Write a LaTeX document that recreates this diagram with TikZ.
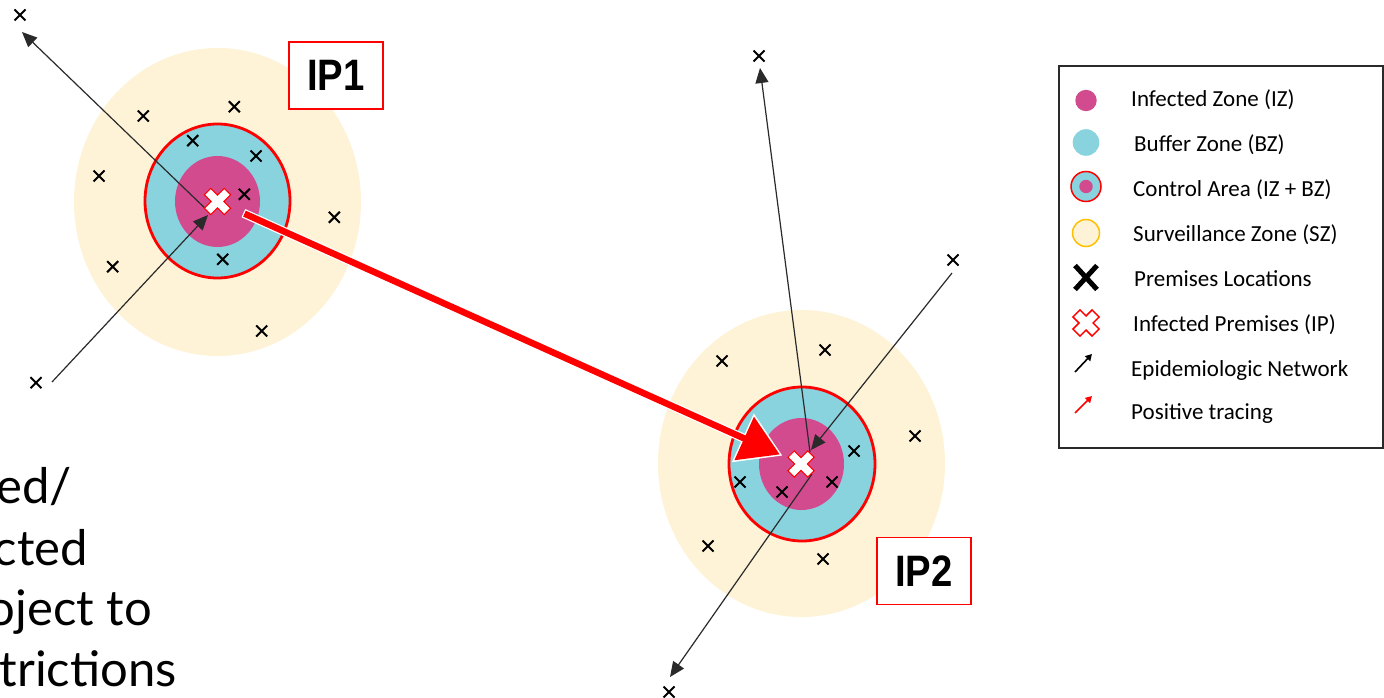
\documentclass[tikz,border=0pt]{standalone}
\usepackage{fontspec}
\usepackage{graphicx}
\usetikzlibrary{arrows.meta,shapes.misc}
\newfontfamily\legendfont{Carlito}
\newfontfamily\labelfont{Liberation Sans}
\newfontfamily\notefont{Lato}

\definecolor{szfill}{HTML}{FEF3D7}
\definecolor{bzfill}{HTML}{88D3DE}
\definecolor{izfill}{HTML}{D24B8F}
\definecolor{netgray}{HTML}{2A2A2A}
\definecolor{szedge}{HTML}{FFC000}

\tikzset{
  premise/.style={cross out, draw=black, line width=2pt, minimum size=9pt, inner sep=0pt},
  net/.style={draw=netgray, line width=1.2pt, -{Triangle[length=15pt,width=13pt]}},
  tracing/.style={draw=red, line width=6.5pt, line cap=butt,
    -{Triangle[length=39pt,width=46pt]},
    preaction={draw=white, line width=9pt, line cap=butt,
      -{Triangle[length=43.5pt,width=51pt]},
      shorten <=28.4pt, shorten >=20.3pt}},
  iplabel/.style={draw=red, line width=1.2pt, fill=white, inner sep=0pt,
    minimum width=94pt, minimum height=67pt,
    font=\labelfont\bfseries\fontsize{44}{48}\selectfont},
  legtext/.style={anchor=base west, inner sep=0pt, text=black,
    font=\legendfont\fontsize{23}{27}\selectfont},
  notetext/.style={anchor=base east, inner sep=0pt, text=black,
    font=\notefont\fontsize{49}{58}\selectfont},
  ipx/.pic={
    \filldraw[fill=white, draw=red, line width=1pt, rotate=45]
      (-4.5,-14) -- (4.5,-14) -- (4.5,-4.5) -- (14,-4.5) -- (14,4.5) -- (4.5,4.5) -- (4.5,14)
      -- (-4.5,14) -- (-4.5,4.5) -- (-14,4.5) -- (-14,-4.5) -- (-4.5,-4.5) -- cycle;
  },
  ipxlegend/.pic={
    \filldraw[fill=white, draw=red, line width=1.5pt, rotate=45]
      (-5,-13.5) -- (5,-13.5) -- (5,-5) -- (13.5,-5) -- (13.5,5) -- (5,5) -- (5,13.5)
      -- (-5,13.5) -- (-5,5) -- (-13.5,5) -- (-13.5,-5) -- (-5,-5) -- cycle;
  },
}

\begin{document}
\begin{tikzpicture}[x=1pt, y=-1pt]
\clip (0,0) rectangle (1384,698);
\fill[white] (0,0) rectangle (1384,698);

% ---- zones around IP1
\fill[szfill] (217.5,202) ellipse [x radius=143.5, y radius=154];
\filldraw[fill=bzfill, draw=red, line width=2.8pt] (217.5,201) ellipse [x radius=72.5, y radius=77];
\fill[izfill] (217.5,201.5) ellipse [x radius=42.5, y radius=45.5];

% ---- zones around IP2
\fill[szfill] (801.5,463.5) ellipse [x radius=143.5, y radius=153.5];
\filldraw[fill=bzfill, draw=red, line width=2.8pt] (802,464) ellipse [x radius=73, y radius=77];
\fill[izfill] (801.5,464) ellipse [x radius=42.5, y radius=46];

% ---- infected premises centres
\coordinate (ip1) at (217.5,201.5);
\coordinate (ip2) at (801,464);

% ---- ends of the epidemiologic links
\coordinate (a1s) at (210,213);
\coordinate (a1e) at (22,32);
\coordinate (b1s) at (52,382);
\coordinate (b1e) at (208,215);
\coordinate (c2s) at (810,452);
\coordinate (c2e) at (760,68);
\coordinate (d2s) at (952,273);
\coordinate (d2e) at (811,450);
\coordinate (e2s) at (812,474);
\coordinate (e2e) at (670,677);

\draw[net] (a1s) -- (a1e);
\draw[net] (b1s) -- (b1e);
\draw[net] (c2s) -- (c2e);
\draw[net] (d2s) -- (d2e);
\draw[net] (e2s) -- (e2e);

% ---- premises locations near IP1
\node[premise] (p1)  at (20,15) {};
\node[premise] (p2)  at (143.3,116) {};
\node[premise] (p3)  at (234.3,106.7) {};
\node[premise] (p4)  at (192.7,140.7) {};
\node[premise] (p5)  at (256,156) {};
\node[premise] (p6)  at (99,176) {};
\node[premise] (p7)  at (244.3,194.3) {};
\node[premise] (p8)  at (334.3,217.3) {};
\node[premise] (p9)  at (112.7,266.7) {};
\node[premise] (p10) at (222.7,259.3) {};
\node[premise] (p11) at (261.7,331) {};
\node[premise] (p12) at (36,382.7) {};

% ---- premises locations near IP2
\node[premise] (q1)  at (759,56) {};
\node[premise] (q2)  at (953,260) {};
\node[premise] (q3)  at (722,361) {};
\node[premise] (q4)  at (825,350) {};
\node[premise] (q5)  at (915,436) {};
\node[premise] (q6)  at (854,451) {};
\node[premise] (q7)  at (740,482) {};
\node[premise] (q8)  at (782,492) {};
\node[premise] (q9)  at (832,482) {};
\node[premise] (q10) at (708,546) {};
\node[premise] (q11) at (823,559) {};
\node[premise] (q12) at (669,692) {};

% ---- positive tracing from IP1 to IP2
\draw[tracing, shorten <=29.6pt, shorten >=23.3pt] (ip1) -- (ip2);

% ---- infected premises markers
\pic (ipx1) at (ip1) {ipx};
\pic (ipx2) at (ip2) {ipx};

% ---- labels
\node[iplabel] (lab1) at (336,75.5) {\scalebox{0.87}[1]{IP1}};
\node[iplabel] (lab2) at (924,571) {\scalebox{0.87}[1]{IP2}};

% ---- side note, running off the left edge
\node[notetext] (n1) at (72,503) {ed/};
\node[notetext] (n2) at (88,565) {cted};
\node[notetext] (n3) at (152,625) {oject to};
\node[notetext] (n4) at (177,686) {trictions};

% ---- legend
\draw[draw=netgray, line width=1.5pt, fill=white] (1059,66) rectangle (1383,448);
\fill[izfill] (1086,100.5) circle [radius=10.7];
\fill[bzfill] (1086,142.5) circle [radius=13.3];
\filldraw[fill=bzfill, draw=red, line width=1.5pt] (1086,186.5) circle [radius=15];
\fill[izfill] (1086,186.5) circle [radius=6.7];
\filldraw[fill=szfill, draw=szedge, line width=1.5pt] (1086,233) circle [radius=13.5];
\node[cross out, draw=black, line width=5pt, minimum width=17pt, minimum height=19pt, inner sep=0pt] (lgx) at (1086,277.5) {};
\pic (lgip) at (1086,323) {ipxlegend};
\coordinate (lga1) at (1075,372);
\coordinate (lga2) at (1092,354);
\coordinate (lgb1) at (1075,413);
\coordinate (lgb2) at (1092,396);
\draw[draw=black, line width=1.6pt, -{Triangle[length=6.5pt,width=7pt]}] (lga1) -- (lga2);
\draw[draw=red, line width=1.6pt, -{Triangle[length=6.5pt,width=7pt]}] (lgb1) -- (lgb2);

\node[legtext] (l1) at (1131,106.7) {Infected Zone (IZ)};
\node[legtext] (l2) at (1134,151.7) {Buffer Zone (BZ)};
\node[legtext] (l3) at (1133,196.7) {Control Area (IZ + BZ)};
\node[legtext] (l4) at (1133,241.7) {Surveillance Zone (SZ)};
\node[legtext] (l5) at (1134,286.7) {Premises Locations};
\node[legtext] (l6) at (1133,331.7) {Infected Premises (IP)};
\node[legtext] (l7) at (1131,376.7) {Epidemiologic Network};
\node[legtext] (l8) at (1131,419.3) {Positive tracing};
\end{tikzpicture}
\end{document}
